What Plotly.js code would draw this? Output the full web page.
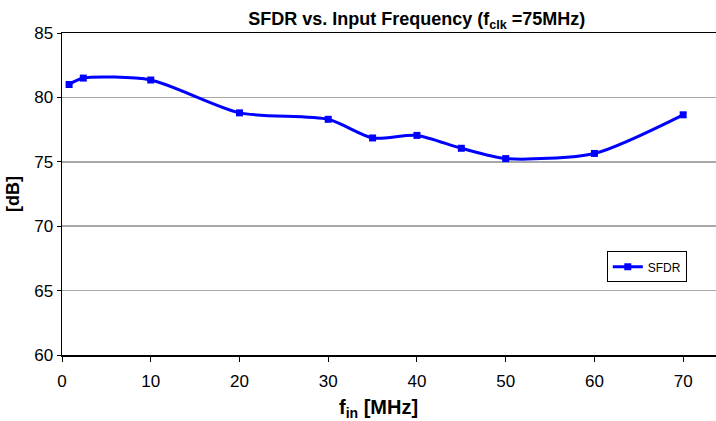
<!DOCTYPE html>
<html>
<head>
<meta charset="utf-8">
<script src="https://cdn.plot.ly/plotly-3.0.1.min.js"></script>
<style>
  html, body { margin: 0; padding: 0; background: #fff; }
  #chart { width: 716px; height: 421px; }
</style>
</head>
<body>
<div id="chart"></div>
<script>
// Data
const seriesName = "SFDR";
const fin = [0.8, 2.4, 10, 20, 30, 35, 40, 45, 50, 60, 70];
const sfdr = [81.0, 81.5, 81.35, 78.8, 78.3, 76.85, 77.05, 76.05, 75.25, 75.65, 78.65];
const xTicks = [0, 10, 20, 30, 40, 50, 60, 70];
const yTicks = [60, 65, 70, 75, 80, 85];

const font = "Liberation Sans, Arial, Helvetica, sans-serif";

const trace = {
  x: fin,
  y: sfdr,
  name: seriesName,
  type: "scatter",
  mode: "lines+markers",
  line: { color: "#0000ff", width: 3, shape: "spline", smoothing: 0.7 },
  marker: { color: "#0000ff", symbol: "square", size: 7 }
};

const layout = {
  width: 716,
  height: 421,
  margin: { l: 62, r: 0, t: 33, b: 66, pad: 0 },
  paper_bgcolor: "#ffffff",
  plot_bgcolor: "#ffffff",
  font: { family: font, color: "#000000", size: 17 },
  title: {
    text: "<b>SFDR vs. Input Frequency (f<sub>clk</sub> =75MHz)</b>",
    font: { family: font, size: 18, color: "#000000" },
    x: 0.582, xref: "container", xanchor: "center",
    y: 0.955, yref: "container", yanchor: "middle"
  },
  xaxis: {
    range: [0, 73.7],
    tickvals: xTicks,
    ticktext: xTicks.map(String),
    showgrid: false,
    zeroline: false,
    showline: true,
    linecolor: "#000000",
    linewidth: 1.5,
    mirror: true,
    ticks: "outside",
    ticklen: 5,
    tickcolor: "#000000",
    ticklabelstandoff: 5,
    tickfont: { family: font, size: 17, color: "#000000" },
    fixedrange: true
  },
  yaxis: {
    range: [60, 85],
    tickvals: yTicks,
    ticktext: yTicks.map(String),
    showgrid: true,
    gridcolor: "#a8a8a8",
    gridwidth: 1.5,
    zeroline: false,
    showline: true,
    linecolor: "#000000",
    linewidth: 1.5,
    mirror: false,
    ticks: "outside",
    ticklen: 4,
    tickcolor: "#000000",
    tickfont: { family: font, size: 17, color: "#000000" },
    title: {
      text: "<b>[dB]</b>",
      font: { family: font, size: 18, color: "#000000" },
      standoff: 10
    },
    fixedrange: true
  },
  annotations: [{
    text: "<b>f<sub>in</sub> [MHz]</b>",
    font: { family: font, size: 20, color: "#000000" },
    xref: "paper", yref: "paper",
    x: (378 - 62) / 654, y: -(408 - 355) / 322,
    xanchor: "center", yanchor: "middle",
    showarrow: false
  }],
  showlegend: true,
  legend: {
    x: 0.833, xanchor: "left",
    y: 0.322, yanchor: "top",
    bgcolor: "#ffffff",
    bordercolor: "#000000",
    borderwidth: 1,
    font: { family: font, size: 12, color: "#000000" },
    itemwidth: 30,
    tracegroupgap: 0
  }
};

Plotly.newPlot("chart", [trace], layout, { displayModeBar: false, staticPlot: true });
</script>
</body>
</html>
